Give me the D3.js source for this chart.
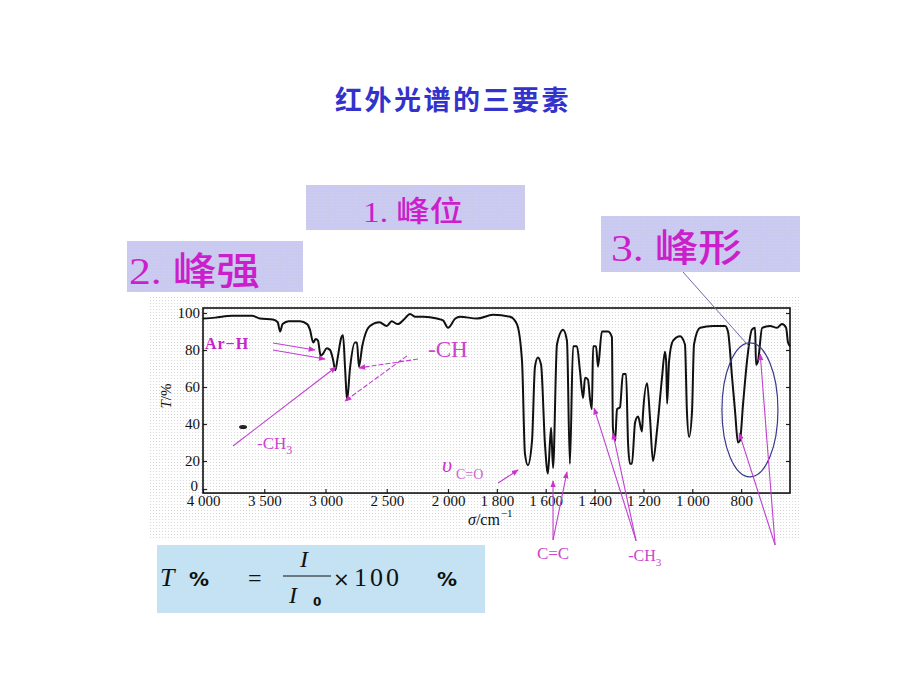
<!DOCTYPE html>
<html><head><meta charset="utf-8">
<script src="https://cdn.jsdelivr.net/npm/d3@7"></script>
<style>body{margin:0;background:#fff}svg{display:block}</style>
</head><body>
<svg id="c" width="920" height="690"></svg>
<script>
// ---------------- data ----------------
const title = "红外光谱的三要素";
const elementNumbers = ["1. ", "2. ", "3. "];
const elementLabels = ["峰位", "峰强", "峰形"];
const wavenumbers = [4000,3900,3763,3600,3535,3430,3390,3371,3350,3300,3208,3150,3127,3100,3080,3061,3040,3020,2990,2963,2939,2920,2900,2870,2857,2840,2824,2800,2760,2743,2727,2700,2660,2637,2560,2500,2460,2410,2360,2310,2270,2200,2090,2040,2000,1970,1951,1881,1816,1746,1718,1697,1685,1673,1656,1644,1632,1619,1603,1591,1578,1570,1554,1529,1513,1501,1488,1472,1460,1447,1439,1427,1419,1411,1406,1394,1386,1370,1345,1329,1325,1316,1308,1296,1284,1271,1263,1255,1247,1234,1222,1206,1202,1185,1173,1161,1144,1124,1112,1107,1103,1095,1079,1050,1030,1022,1013,1001,993,968,915,866,854,837,825,813,805,792,776,756,743,739,731,714,682,653,633,616,608,600];
const transmittance = [97,97.5,98.5,98.5,97,96.5,95,90,94,95.5,95.5,94,91,84,86,85,77,78,81,80,75,69,76,87,88,70,53,70,84,84,71,82,91,93,95,93,95.5,94,96.5,99.5,98,98,97,96,92,97,98,97,99,98,94,74,24,17,31,71,76,72,29,11,38,15,83,91,85,18,82,82,69,54,65,64,54,48,82,82,71,90,90,87,38,31,48,49,67,67,30,18,18,41,44,36,45,62,43,20,37,65,79,74,51,74,85,87.5,83,47,33,47,83,92,93,93,90,65,47,30,31,51,74,91,92,72,74,92,93,92,94,92,84,82];
const xTickValues = [4000,3500,3000,2500,2000,1800,1600,1400,1200,1000,800];
const xTickLabels = ["4 000","3 500","3 000","2 500","2 000","1 800","1 600","1 400","1 200","1 000","800"];
const yTickValues = [0,20,40,60,80,100];
const yTickLabels = ["0","20","40","60","80","100"];
// annotation arrows: tails and tips as [wavenumber, T]
const arrowTails = [[3429,83.8],[3429,80],[3755,28.1],[2245,75.1],[2335,76.8],[1795,4.3],[1570,-36.4],[1570,-36.4],[1230,-37.1],[1230,-37.1],[661,-40],[661,-40]];
const arrowTips  = [[3086,80],[3004,75.1],[2914,70.8],[2727,70.3],[2841,52.4],[1713,13.6],[1570,5.7],[1513,12.1],[1402,48.6],[1325,35.1],[808,35.1],[722,77.8]];
const arrowDashed = [false,false,false,true,true,false,false,false,false,false,false,false];
// group labels at [wavenumber, T]
const groupLabelText = ["Ar−H","-CH","-CH","-CH","C=C"];
const groupLabelSub  = ["","3","","3",""];
const groupLabelPos  = [[3984,80.5],[3559,26.5],[2163,76],[1262,-51.4],[1570,-50]];
const shapeEllipseCenter = [764, 47.6];

// ---------------- drawing ----------------
const svg = d3.select("#c");
const defs = svg.append("defs");
const pat = defs.append("pattern").attr("id","dots").attr("width",3).attr("height",3).attr("patternUnits","userSpaceOnUse");
pat.append("rect").attr("width",1).attr("height",1).attr("fill","#d9d9d9");
defs.append("marker").attr("id","ah").attr("viewBox","0 0 10 10").attr("refX",9).attr("refY",5)
  .attr("markerWidth",7).attr("markerHeight",7).attr("markerUnits","userSpaceOnUse").attr("orient","auto")
  .append("path").attr("d","M0,1L10,5L0,9Z").attr("fill","#cc33cc");

const serif = "'Liberation Serif','Times New Roman',serif";
const cjk = "'Noto Sans CJK SC',sans-serif";

// title
svg.append("text").attr("x",453).attr("y",110).attr("text-anchor","middle")
  .attr("font-family",cjk).attr("font-weight","bold")
  .attr("font-size",27).attr("letter-spacing",2.5).attr("fill","#3333cc").text(title);

// textured scan area
svg.append("rect").attr("x",148).attr("y",296).attr("width",652).attr("height",244).attr("fill","url(#dots)");

// element boxes
const boxes = [
  {x:306,y:185,w:219,h:45,fs:29,tx:363,ty:222},
  {x:127,y:241,w:176,h:51,fs:38,tx:129,ty:284},
  {x:601,y:216,w:199,h:56,fs:38,tx:611,ty:261}
];
boxes.forEach((b,i)=>{
  svg.append("rect").attr("x",b.x).attr("y",b.y).attr("width",b.w).attr("height",b.h).attr("fill","#c9c9f1");
  svg.append("rect").attr("x",b.x).attr("y",b.y).attr("width",b.w).attr("height",b.h).attr("fill","url(#dots)").attr("opacity",0.5);
  const t = svg.append("text").attr("transform",`translate(${b.tx},${b.ty}) scale(1.15,1)`)
    .attr("font-size",b.fs).attr("fill","#cc1fcc");
  t.append("tspan").attr("font-family",serif).text(elementNumbers[i]);
  t.append("tspan").attr("font-family",cjk).attr("font-weight",500).text(elementLabels[i]);
});

// scales
const x = d3.scaleLinear().domain([4000,2000,600]).range([203,448,790]);
const y = d3.scaleLinear().domain([0,20,100]).range([489,461,313]);
const fTop = y(102.7), fBot = y(-2.9), fL = x(4000), fR = x(600);

// axes
const gx = svg.append("g").attr("transform",`translate(0,${fBot})`)
  .call(d3.axisBottom(x).tickValues(xTickValues).tickFormat((d,i)=>xTickLabels[i]).tickSizeInner(-4).tickSizeOuter(0).tickPadding(2));
const gy = svg.append("g").attr("transform",`translate(${fL},0)`)
  .call(d3.axisLeft(y).tickValues(yTickValues).tickFormat((d,i)=>yTickLabels[i]).tickSizeInner(-4).tickSizeOuter(0).tickPadding(3));
const gr = svg.append("g").attr("transform",`translate(${fR},0)`)
  .call(d3.axisRight(y).tickValues(yTickValues.slice(1)).tickFormat("").tickSizeInner(-4).tickSizeOuter(0));
[gx,gy,gr].forEach(g=>{
  g.select(".domain").remove();
  g.selectAll("text").attr("font-family",serif).attr("font-size",15).attr("fill","#111");
  g.selectAll("line").attr("stroke","#222").attr("stroke-width",1.2);
});
gy.selectAll(".tick").filter(d=>d===0).select("text").attr("dy","0.1em").attr("x",-5);
svg.append("rect").attr("x",fL).attr("y",fTop).attr("width",fR-fL).attr("height",fBot-fTop)
  .attr("fill","none").attr("stroke","#111").attr("stroke-width",1.6);

// axis titles
const yt = svg.append("text").attr("transform","translate(171,396) rotate(-90)").attr("text-anchor","middle")
  .attr("font-family",serif).attr("font-size",15).attr("fill","#111");
yt.append("tspan").attr("font-style","italic").text("T");
yt.append("tspan").text("/%");
const xt = svg.append("text").attr("x",468).attr("y",525).attr("font-family",serif).attr("font-size",16).attr("fill","#111");
xt.append("tspan").attr("font-style","italic").text("σ");
xt.append("tspan").text("/cm");
xt.append("tspan").attr("dy",-8).attr("dx",1).attr("font-size",11).text("−1");

// spectrum
const pts = wavenumbers.map((w,i)=>[w,transmittance[i]]);
svg.append("path").datum(pts)
  .attr("d",d3.line().x(d=>x(d[0])).y(d=>y(d[1])).curve(d3.curveMonotoneX))
  .attr("fill","none").attr("stroke","#111").attr("stroke-width",2).attr("stroke-linejoin","round");

// smudge
svg.append("ellipse").attr("cx",x(3673)).attr("cy",y(38.4)).attr("rx",4).attr("ry",2).attr("fill","#222");

// ellipse + link to box 3
svg.append("ellipse").attr("cx",x(shapeEllipseCenter[0])).attr("cy",y(shapeEllipseCenter[1])).attr("rx",28).attr("ry",67)
  .attr("fill","none").attr("stroke","#3a3a8c").attr("stroke-width",1.2);
svg.append("line").attr("x1",683).attr("y1",272).attr("x2",x(766)).attr("y2",y(81.7))
  .attr("stroke","#6a6ab0").attr("stroke-width",1);

// arrows
arrowTails.forEach((t,i)=>{
  const p = arrowTips[i];
  svg.append("line").attr("x1",x(t[0])).attr("y1",y(t[1])).attr("x2",x(p[0])).attr("y2",y(p[1]))
    .attr("stroke","#c040d0").attr("stroke-width",1.1)
    .attr("stroke-dasharray",arrowDashed[i]?"5,2":null).attr("marker-end","url(#ah)");
});

// group labels
const glSizes = [16,17,23,16,17];
groupLabelText.forEach((t,i)=>{
  const p = groupLabelPos[i];
  const tx = svg.append("text").attr("x",x(p[0])).attr("y",y(p[1])).attr("font-family",serif)
    .attr("font-size",glSizes[i]).attr("fill",i===0?"#cc22cc":"#cc44cc")
    .attr("font-weight",i===0?"bold":"normal")
    .attr("text-anchor",i===4?"middle":"start").attr("letter-spacing",i===0?1:0);
  tx.append("tspan").text(t);
  if(groupLabelSub[i]) tx.append("tspan").attr("dy",5).attr("font-size",glSizes[i]*0.7).text(groupLabelSub[i]);
});
// nu C=O label
const nu = svg.append("text").attr("x",x(2050)).attr("y",y(12.5)).attr("font-family",serif).attr("fill","#cc33cc");
nu.append("tspan").attr("font-size",22).attr("font-style","italic").text("υ");
nu.append("tspan").attr("dx",4).attr("dy",7).attr("font-size",14).attr("fill","#cc66cc").text("C=O");

// formula box
svg.append("rect").attr("x",157).attr("y",545).attr("width",328).attr("height",68).attr("fill","#c3e3f5");
svg.append("rect").attr("x",157).attr("y",545).attr("width",328).attr("height",68).attr("fill","url(#dots)").attr("opacity",0.35);
const F = svg.append("g").attr("fill","#111");
F.append("text").attr("x",160).attr("y",586).attr("font-family",serif).attr("font-style","italic").attr("font-size",26).text("T");
F.append("text").attr("x",189).attr("y",586).attr("font-family","'DejaVu Sans',sans-serif").attr("font-weight","bold").attr("font-size",20).text("%");
F.append("text").attr("x",248).attr("y",586).attr("font-family",serif).attr("font-size",24).text("=");
F.append("text").attr("x",300).attr("y",567).attr("font-family",serif).attr("font-style","italic").attr("font-size",24).text("I");
F.append("line").attr("x1",283).attr("x2",331).attr("y1",576).attr("y2",576).attr("stroke","#111").attr("stroke-width",1);
F.append("text").attr("x",289).attr("y",603).attr("font-family",serif).attr("font-style","italic").attr("font-size",24).text("I");
F.append("text").attr("x",313).attr("y",606).attr("font-family","'DejaVu Sans',sans-serif").attr("font-weight","bold").attr("font-size",12).text("0");
F.append("text").attr("x",333).attr("y",586).attr("font-family","'DejaVu Sans',sans-serif").attr("font-size",20).text("×");
F.append("text").attr("x",354).attr("y",586).attr("font-family",serif).attr("font-size",26).attr("letter-spacing",3).text("100");
F.append("text").attr("x",437).attr("y",586).attr("font-family","'DejaVu Sans',sans-serif").attr("font-weight","bold").attr("font-size",20).text("%");
</script>
</body></html>
